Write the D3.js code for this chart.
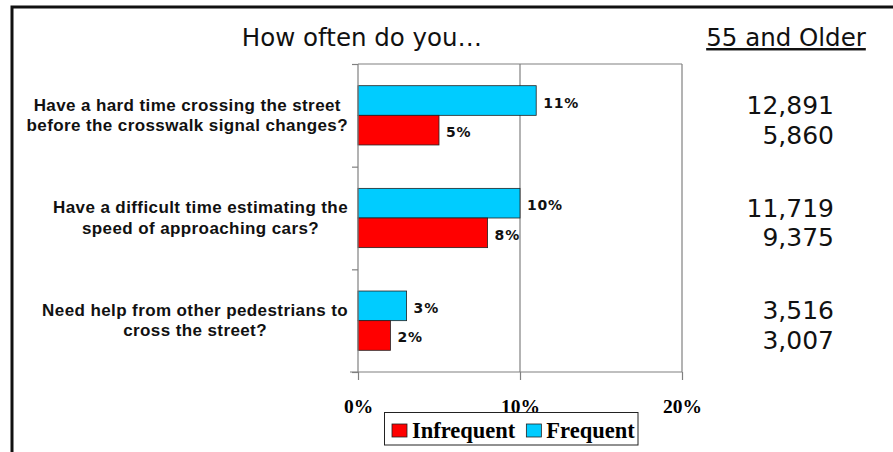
<!DOCTYPE html>
<html><head><meta charset="utf-8">
<script src="https://cdn.jsdelivr.net/npm/d3@7"></script>
<style>body{margin:0;background:#fff}svg{display:block}</style>
</head><body><svg id="c" width="893" height="452"></svg>
<script>
const categories = [
  ["Have a hard time crossing the street", "before the crosswalk signal changes?"],
  ["Have a difficult time estimating the", "speed of approaching cars?"],
  ["Need help from other pedestrians to", "cross the street?"]
];
const series = ["Frequent", "Infrequent"];
const frequent = [11, 10, 3];
const infrequent = [5, 8, 2];
const frequentCounts = ["12,891", "11,719", "3,516"];
const infrequentCounts = ["5,860", "9,375", "3,007"];
const xTicks = [0, 10, 20];
const colors = {Frequent: "#00CCFF", Infrequent: "#FF0000"};
const titleText = "How often do you\u2026";
const groupTitle = "55 and Older";

const svg = d3.select("#c");
const plot = {l: 358, r: 682, t: 64, b: 372};
const x = d3.scaleLinear().domain([0, 20]).range([plot.l, plot.r]);
const catIdx = categories.map((d, i) => i);
const y0 = d3.scaleBand().domain(catIdx).range([plot.t, plot.b]);
const y1 = d3.scaleBand().domain(series).range([0, y0.bandwidth()]).paddingInner(0).paddingOuter(0.732);

// frame
svg.append("path").attr("d", "M12,452 V7 H893").attr("fill", "none").attr("stroke", "#111").attr("stroke-width", 3);

// plot area frame + gridlines
svg.append("line").attr("x1", plot.l).attr("x2", plot.r).attr("y1", plot.t).attr("y2", plot.t).attr("stroke", "#808080").attr("stroke-width", 1.2);
xTicks.slice(1).forEach(t => {
  svg.append("line").attr("x1", x(t)).attr("x2", x(t)).attr("y1", plot.t).attr("y2", plot.b).attr("stroke", "#808080").attr("stroke-width", 1.2);
});

// bars
const data = catIdx.map(i => ({i, vals: [{s: "Frequent", v: frequent[i]}, {s: "Infrequent", v: infrequent[i]}]}));
const g = svg.append("g");
const grp = g.selectAll("g.grp").data(data).join("g").attr("transform", d => `translate(0,${y0(d.i)})`);
grp.selectAll("rect").data(d => d.vals).join("rect")
  .attr("x", x(0)).attr("y", d => y1(d.s)).attr("width", d => x(d.v) - x(0)).attr("height", y1.bandwidth())
  .attr("fill", d => colors[d.s]).attr("stroke", "#222").attr("stroke-width", 0.8);
grp.selectAll("text").data(d => d.vals).join("text")
  .attr("x", d => x(d.v) + 7).attr("y", d => y1(d.s) + y1.bandwidth() / 2 + 2)
  .attr("dominant-baseline", "central")
  .attr("font-family", "DejaVu Sans").attr("font-weight", "bold").attr("font-size", 14).attr("letter-spacing", 0.8)
  .attr("fill", "#111").text(d => d.v + "%");

// axes
const xAxis = d3.axisBottom(x).tickValues(xTicks).tickSize(8).tickFormat(d => d + "%");
const xa = svg.append("g").attr("transform", `translate(0,${plot.b})`).call(xAxis);
xa.select(".domain").attr("stroke", "#808080").attr("stroke-width", 1.2).attr("d", `M${plot.l - 8},0H${plot.r}`);
xa.selectAll(".tick line").attr("stroke", "#808080").attr("stroke-width", 1.2);
xa.selectAll(".tick text").attr("font-family", "Liberation Serif").attr("font-weight", "bold").attr("font-size", 19.5).attr("fill", "#000").attr("dy", 0).attr("y", 41);

const yEdges = d3.scaleLinear().domain([0, 3]).range([plot.t, plot.b]);
const yAxis = d3.axisLeft(yEdges).tickValues([0, 1, 2, 3]).tickSize(6).tickFormat("");
const ya = svg.append("g").attr("transform", `translate(${plot.l},0)`).call(yAxis);
ya.select(".domain").attr("stroke", "#808080").attr("stroke-width", 1.2).attr("d", `M0,${plot.t}V${plot.b}`);
ya.selectAll(".tick line").attr("stroke", "#808080").attr("stroke-width", 1.2);

// category labels
const labelRight = 348;
catIdx.forEach(i => {
  const lines = categories[i];
  const cy = y0(i) + y0.bandwidth() / 2;
  const tg = svg.append("g");
  const ts = lines.map((ln, k) => tg.append("text").text(ln)
    .attr("font-family", "Liberation Sans").attr("font-weight", "bold").attr("font-size", 17).attr("letter-spacing", 0.4).attr("fill", "#111")
    .attr("text-anchor", "middle").attr("dominant-baseline", "central")
    .attr("y", cy + (k - (lines.length - 1) / 2) * 20.5));
  const maxW = d3.max(ts, t => t.node().getComputedTextLength());
  ts.forEach(t => t.attr("x", labelRight - maxW / 2));
});

// right counts
catIdx.forEach(i => {
  [[frequentCounts[i], "Frequent"], [infrequentCounts[i], "Infrequent"]].forEach(([txt, s]) => {
    svg.append("text").text(txt).attr("x", 834).attr("y", y0(i) + y1(s) + y1.bandwidth() / 2 + 5)
      .attr("text-anchor", "end").attr("dominant-baseline", "central")
      .attr("font-family", "DejaVu Sans").attr("font-size", 25).attr("fill", "#111");
  });
});

// titles
svg.append("text").text(titleText).attr("x", 362).attr("y", 46).attr("text-anchor", "middle")
  .attr("font-family", "DejaVu Sans").attr("font-size", 24.5).attr("fill", "#111");
svg.append("text").text(groupTitle).attr("x", 786).attr("y", 46).attr("text-anchor", "middle")
  .attr("font-family", "DejaVu Sans").attr("font-size", 24.5).attr("fill", "#111").attr("text-decoration", "underline");

// legend
const lg = svg.append("g");
lg.append("rect").attr("x", 384.5).attr("y", 412.5).attr("width", 253.5).attr("height", 32.5)
  .attr("fill", "#fff").attr("stroke", "#222").attr("stroke-width", 1);
const legendItems = ["Infrequent", "Frequent"];
let lx = 392;
legendItems.forEach(s => {
  lg.append("rect").attr("x", lx).attr("y", 424).attr("width", 15).attr("height", 13)
    .attr("fill", colors[s]).attr("stroke", "#222").attr("stroke-width", 0.8);
  const t = lg.append("text").text(s).attr("x", lx + 20).attr("y", 438)
    .attr("font-family", "Liberation Serif").attr("font-weight", "bold").attr("font-size", 22.5).attr("fill", "#000");
  lx += 20 + t.node().getComputedTextLength() + 11;
});
</script></body></html>
